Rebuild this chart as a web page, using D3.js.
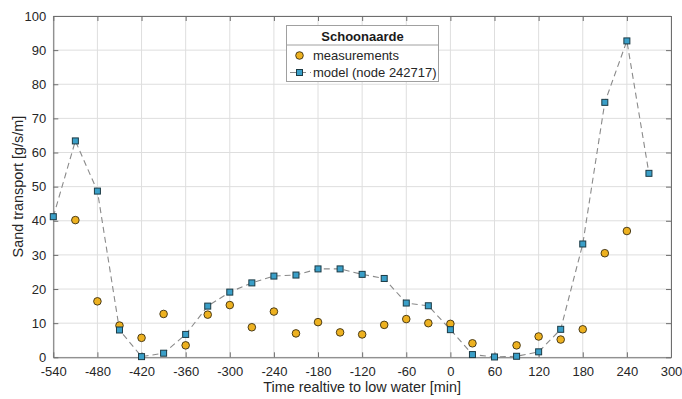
<!DOCTYPE html>
<html><head><meta charset="utf-8">
<script src="https://cdn.jsdelivr.net/npm/d3@7"></script>
<style>
body{margin:0;background:#fff;}
text{font-family:"Liberation Sans",Arial,sans-serif;}
</style></head>
<body><svg id="c" width="682" height="399"></svg>
<script>
const times = [-540,-510,-480,-450,-420,-390,-360,-330,-300,-270,-240,-210,-180,-150,-120,-90,-60,-30,0,30,60,90,120,150,180,210,240,270];
const model = [41.2,63.4,48.7,8.0,0.2,1.2,6.7,15.0,19.1,21.8,23.8,24.1,25.9,25.9,24.3,23.1,15.9,15.1,8.1,0.8,0.1,0.3,1.6,8.2,33.2,74.7,92.7,53.9];
const measTimes = [-510,-480,-450,-420,-390,-360,-330,-300,-270,-240,-210,-180,-150,-120,-90,-60,-30,0,30,90,120,150,180,210,240];
const measurements = [40.2,16.4,9.3,5.7,12.7,3.5,12.5,15.3,8.8,13.4,7.0,10.3,7.3,6.7,9.5,11.2,10.0,9.8,4.1,3.5,6.1,5.2,8.2,30.5,37.0];
const xTicks = [-540,-480,-420,-360,-300,-240,-180,-120,-60,0,60,120,180,240,300];
const yTicks = [0,10,20,30,40,50,60,70,80,90,100];
const legendTitle = "Schoonaarde";
const seriesNames = ["measurements","model (node 242717)"];

const L=53.3,R=671,T=16,B=357.3;
const svg=d3.select("#c");
const x=d3.scaleLinear().domain([-540,300]).range([L,R]);
const y=d3.scaleLinear().domain([0,100]).range([B,T]);
const fmt=d=>String(d);

// grid
svg.append("g").selectAll("line").data(xTicks).join("line")
  .attr("x1",d=>x(d)).attr("x2",d=>x(d)).attr("y1",T).attr("y2",B)
  .attr("stroke","#dedede").attr("stroke-width",1);
svg.append("g").selectAll("line").data(yTicks).join("line")
  .attr("y1",d=>y(d)).attr("y2",d=>y(d)).attr("x1",L).attr("x2",R)
  .attr("stroke","#dedede").attr("stroke-width",1);

// axes
const ax=d3.axisBottom(x).tickValues(xTicks).tickFormat(fmt).tickSizeInner(-5).tickSizeOuter(0).tickPadding(9);
const gx=svg.append("g").attr("transform",`translate(0,${B})`).call(ax);
const ay=d3.axisLeft(y).tickValues(yTicks).tickFormat(fmt).tickSizeInner(-5).tickSizeOuter(0).tickPadding(7);
const gy=svg.append("g").attr("transform",`translate(${L},0)`).call(ay);
const at=d3.axisTop(x).tickValues(xTicks).tickSizeInner(-5).tickSizeOuter(0).tickFormat("");
const gt=svg.append("g").attr("transform",`translate(0,${T})`).call(at);
const ar=d3.axisRight(y).tickValues(yTicks).tickSizeInner(-5).tickSizeOuter(0).tickFormat("");
const gr=svg.append("g").attr("transform",`translate(${R},0)`).call(ar);
[gx,gy,gt,gr].forEach(g=>{
  g.select(".domain").attr("stroke","#6e6e6e");
  g.selectAll(".tick line").attr("stroke","#6e6e6e");
  g.selectAll("text").attr("font-size",13).attr("fill","#262626").attr("font-family","Liberation Sans, Arial, sans-serif");
});

// labels
svg.append("text").attr("x",(L+R)/2).attr("y",392).attr("text-anchor","middle")
  .attr("font-size",14.4).attr("fill","#262626").text("Time realtive to low water [min]");
svg.append("text").attr("transform",`translate(23,${(T+B)/2}) rotate(-90)`).attr("text-anchor","middle")
  .attr("font-size",14.4).attr("fill","#262626").text("Sand transport [g/s/m]");

// model line
const line=d3.line().x((d,i)=>x(times[i])).y(d=>y(d));
svg.append("path").attr("d",line(model)).attr("fill","none")
  .attr("stroke","#8a8a8a").attr("stroke-width",1.1).attr("stroke-dasharray","6,4");

// measurements
svg.append("g").selectAll("circle").data(measurements).join("circle")
  .attr("cx",(d,i)=>x(measTimes[i])).attr("cy",d=>y(d)).attr("r",3.8)
  .attr("fill","#EDB120").attr("stroke","#3a2e10").attr("stroke-width",0.9);

// model squares
svg.append("g").selectAll("rect").data(model).join("rect")
  .attr("x",(d,i)=>x(times[i])-3).attr("y",d=>y(d)-3).attr("width",6).attr("height",6)
  .attr("fill","#3a9fc8").attr("stroke","#1c3a44").attr("stroke-width",1);

// legend
const lg=svg.append("g");
lg.append("rect").attr("x",286.5).attr("y",25.5).attr("width",152).attr("height",56)
  .attr("fill","#fff").attr("stroke","#a0a0a0").attr("stroke-width",1);
lg.append("line").attr("x1",286.5).attr("x2",438.5).attr("y1",45).attr("y2",45).attr("stroke","#a0a0a0");
lg.append("text").attr("x",362.5).attr("y",41).attr("text-anchor","middle").attr("font-weight","bold")
  .attr("font-size",13).attr("fill","#1a1a1a").text(legendTitle);
lg.append("circle").attr("cx",299.5).attr("cy",55.5).attr("r",3.8)
  .attr("fill","#EDB120").attr("stroke","#3a2e10").attr("stroke-width",0.9);
lg.append("text").attr("x",313).attr("y",60).attr("font-size",13).attr("fill","#262626").text(seriesNames[0]);
lg.append("line").attr("x1",289).attr("x2",311).attr("y1",72.5).attr("y2",72.5)
  .attr("stroke","#8a8a8a").attr("stroke-width",1.1).attr("stroke-dasharray","6,4").attr("stroke-dashoffset",-1);
lg.append("rect").attr("x",296.5).attr("y",69.5).attr("width",6).attr("height",6)
  .attr("fill","#3a9fc8").attr("stroke","#1c3a44").attr("stroke-width",1);
lg.append("text").attr("x",313).attr("y",77).attr("font-size",13).attr("fill","#262626").text(seriesNames[1]);
</script></body></html>
